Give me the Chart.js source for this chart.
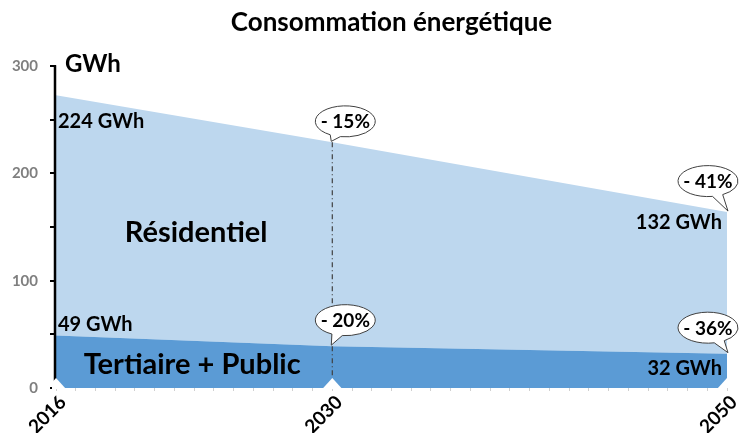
<!DOCTYPE html>
<html>
<head>
<meta charset="utf-8">
<script src="https://cdn.jsdelivr.net/npm/chart.js@4"></script>
<style>
  html, body { margin: 0; padding: 0; background: #fff; }
  #wrap { width: 739px; height: 433px; }
</style>
</head>
<body>
<div id="wrap"><canvas id="chart"></canvas></div>
<script>
// ---------------------------------------------------------------------------
// Data
// ---------------------------------------------------------------------------
const years = [2016, 2030, 2050];
const tertiaire = [49, 39, 32];       // GWh
const residentiel = [224, 190, 132];  // GWh
const labelYears = [2016, 2030, 2050];
const bubbleTotal = ["", "- 15%", "- 41%"];
const bubbleTertiaire = ["", "- 20%", "- 36%"];

const FONT = "Lato, 'Open Sans', sans-serif";
const LIGHT = "#BDD7EE";
const DARK = "#5B9BD5";

const totals = residentiel.map((v, i) => v + tertiaire[i]);

// bubble offsets from the point they point at (px)
const BUBBLE_OFS = {
  total: [null, [13, -21], [-19, -31]],
  tert: [null, [13, -26], [-19, -26]],
};

// ---------------------------------------------------------------------------
// Annotations plugin
// ---------------------------------------------------------------------------
function drawBubble(ctx, cx, cy, tipX, tipY, text) {
  const rx = 30, ry = 15.5;
  const t = Math.atan2((tipY - cy) / ry, (tipX - cx) / rx);
  const d = 0.18;
  ctx.save();
  ctx.beginPath();
  ctx.ellipse(cx, cy, rx, ry, 0, t + d, t - d + Math.PI * 2);
  ctx.lineTo(tipX, tipY);
  ctx.closePath();
  ctx.fillStyle = "#fff";
  ctx.fill();
  ctx.lineWidth = 1;
  ctx.strokeStyle = "#404040";
  ctx.stroke();
  ctx.fillStyle = "#000";
  ctx.font = "bold 19px " + FONT;
  ctx.textAlign = "center";
  ctx.textBaseline = "middle";
  ctx.fillText(text, cx, cy + 1);
  ctx.restore();
}

const annotations = {
  id: "annotations",
  afterDatasetsDraw(chart) {
    const { ctx, chartArea: a, scales: { y } } = chart;
    // y axis line on top of the areas
    ctx.save();
    ctx.beginPath();
    ctx.strokeStyle = "#000";
    ctx.lineWidth = 2.5;
    ctx.moveTo(a.left - 1, y.getPixelForValue(300) - 1);
    ctx.lineTo(a.left - 1, a.bottom);
    ctx.stroke();
    ctx.restore();
  },
  afterDraw(chart) {
    const { ctx, chartArea: a, scales: { x, y } } = chart;
    ctx.save();

    // white notches under the rotated year labels
    ctx.fillStyle = "#fff";
    ctx.save();
    ctx.beginPath();
    ctx.rect(a.left - 4, a.top, a.right - a.left + 4, a.bottom - a.top + 1);
    ctx.clip();
    labelYears.forEach(yr => {
      const px = x.getPixelForValue(yr);
      ctx.beginPath();
      ctx.moveTo(px - 10, a.bottom + 1);
      ctx.lineTo(px, a.bottom - 10);
      ctx.lineTo(px + 10, a.bottom + 1);
      ctx.closePath();
      ctx.fill();
    });
    ctx.restore();

    // dash-dot line at 2030
    const x30 = x.getPixelForValue(2030);
    ctx.beginPath();
    ctx.setLineDash([5, 3, 1, 3]);
    ctx.strokeStyle = "#404040";
    ctx.lineWidth = 1.2;
    ctx.moveTo(x30, y.getPixelForValue(totals[1]));
    ctx.lineTo(x30, a.bottom - 10);
    ctx.stroke();
    ctx.setLineDash([]);

    // unit label
    ctx.fillStyle = "#000";
    ctx.textBaseline = "middle";
    ctx.font = "bold 24px " + FONT;
    ctx.textAlign = "left";
    ctx.fillText("GWh", a.left + 9, y.getPixelForValue(300) - 2);

    // value labels
    ctx.font = "bold 20px " + FONT;
    ctx.fillText(residentiel[0] + " GWh", a.left + 2, y.getPixelForValue(totals[0]) + 26);
    ctx.fillText(tertiaire[0] + " GWh", a.left + 2, y.getPixelForValue(tertiaire[0]) - 11);
    ctx.textAlign = "right";
    ctx.fillText(residentiel[2] + " GWh", a.right - 5, y.getPixelForValue(totals[2]) + 10);
    ctx.fillText(tertiaire[2] + " GWh", a.right - 5, y.getPixelForValue(tertiaire[2]) + 15);

    // series names
    ctx.textAlign = "center";
    ctx.font = "bold 29px " + FONT;
    ctx.fillText("Résidentiel", x.getPixelForValue(2023.1), y.getPixelForValue(145));
    ctx.fillText("Tertiaire + Public", x.getPixelForValue(2022.9), y.getPixelForValue(21.5));

    // bubbles
    years.forEach((yr, i) => {
      const px = x.getPixelForValue(yr);
      const tipDx = yr === 2050 ? 1 : -1;
      if (bubbleTotal[i]) {
        const py = y.getPixelForValue(totals[i]);
        const [ox, oy] = BUBBLE_OFS.total[i];
        drawBubble(ctx, px + ox, py + oy, px + tipDx, py - 1, bubbleTotal[i]);
      }
      if (bubbleTertiaire[i]) {
        const py = y.getPixelForValue(tertiaire[i]);
        const [ox, oy] = BUBBLE_OFS.tert[i];
        drawBubble(ctx, px + ox, py + oy, px + tipDx, py - 1, bubbleTertiaire[i]);
      }
    });
    ctx.restore();
  }
};

// ---------------------------------------------------------------------------
// Chart
// ---------------------------------------------------------------------------
new Chart(document.getElementById("chart"), {
  type: "line",
  data: {
    datasets: [
      {
        label: "Tertiaire + Public",
        data: years.map((yr, i) => ({ x: yr, y: tertiaire[i] })),
        backgroundColor: DARK,
        borderWidth: 0,
        pointRadius: 0,
        fill: "origin",
      },
      {
        label: "Résidentiel",
        data: years.map((yr, i) => ({ x: yr, y: residentiel[i] })),
        backgroundColor: LIGHT,
        borderWidth: 0,
        pointRadius: 0,
        fill: "-1",
      }
    ]
  },
  options: {
    responsive: true,
    maintainAspectRatio: false,
    animation: false,
    layout: { padding: { right: 12, bottom: 0 } },
    plugins: {
      legend: { display: false },
      tooltip: { enabled: false },
      title: {
        display: true,
        fullSize: false,
        text: "Consommation énergétique",
        color: "#000",
        font: { family: FONT, size: 26, weight: "bold" },
        padding: { top: 7, bottom: 28 },
      },
    },
    scales: {
      x: {
        type: "linear",
        min: 2016,
        max: 2050,
        border: { display: false },
        grid: { display: true, drawOnChartArea: false, tickLength: 3, color: "#d0d0d0" },
        ticks: {
          stepSize: 1,
          autoSkip: false,
          maxRotation: 45,
          minRotation: 45,
          labelOffset: 7,
          padding: 0,
          color: "#000",
          font: { family: FONT, size: 19, weight: "bold" },
          callback: v => labelYears.includes(v) ? String(v) : "",
        },
        afterFit: s => { s.height = 45; s.paddingLeft = 0; s.paddingRight = 0; },
      },
      y: {
        stacked: true,
        min: 0,
        max: 300,
        border: { display: false },
        grid: { display: true, drawOnChartArea: false, tickLength: 6, color: "#000", lineWidth: 2 },
        ticks: {
          stepSize: 50,
          padding: 12,
          color: "#7f7f7f",
          font: { family: FONT, size: 15, weight: "bold" },
          callback: v => v % 100 === 0 ? String(v) : "",
        },
        afterFit: s => { s.width = 56; s.paddingTop = 0; s.paddingBottom = 0; },
      }
    }
  },
  plugins: [annotations]
});
</script>
</body>
</html>
